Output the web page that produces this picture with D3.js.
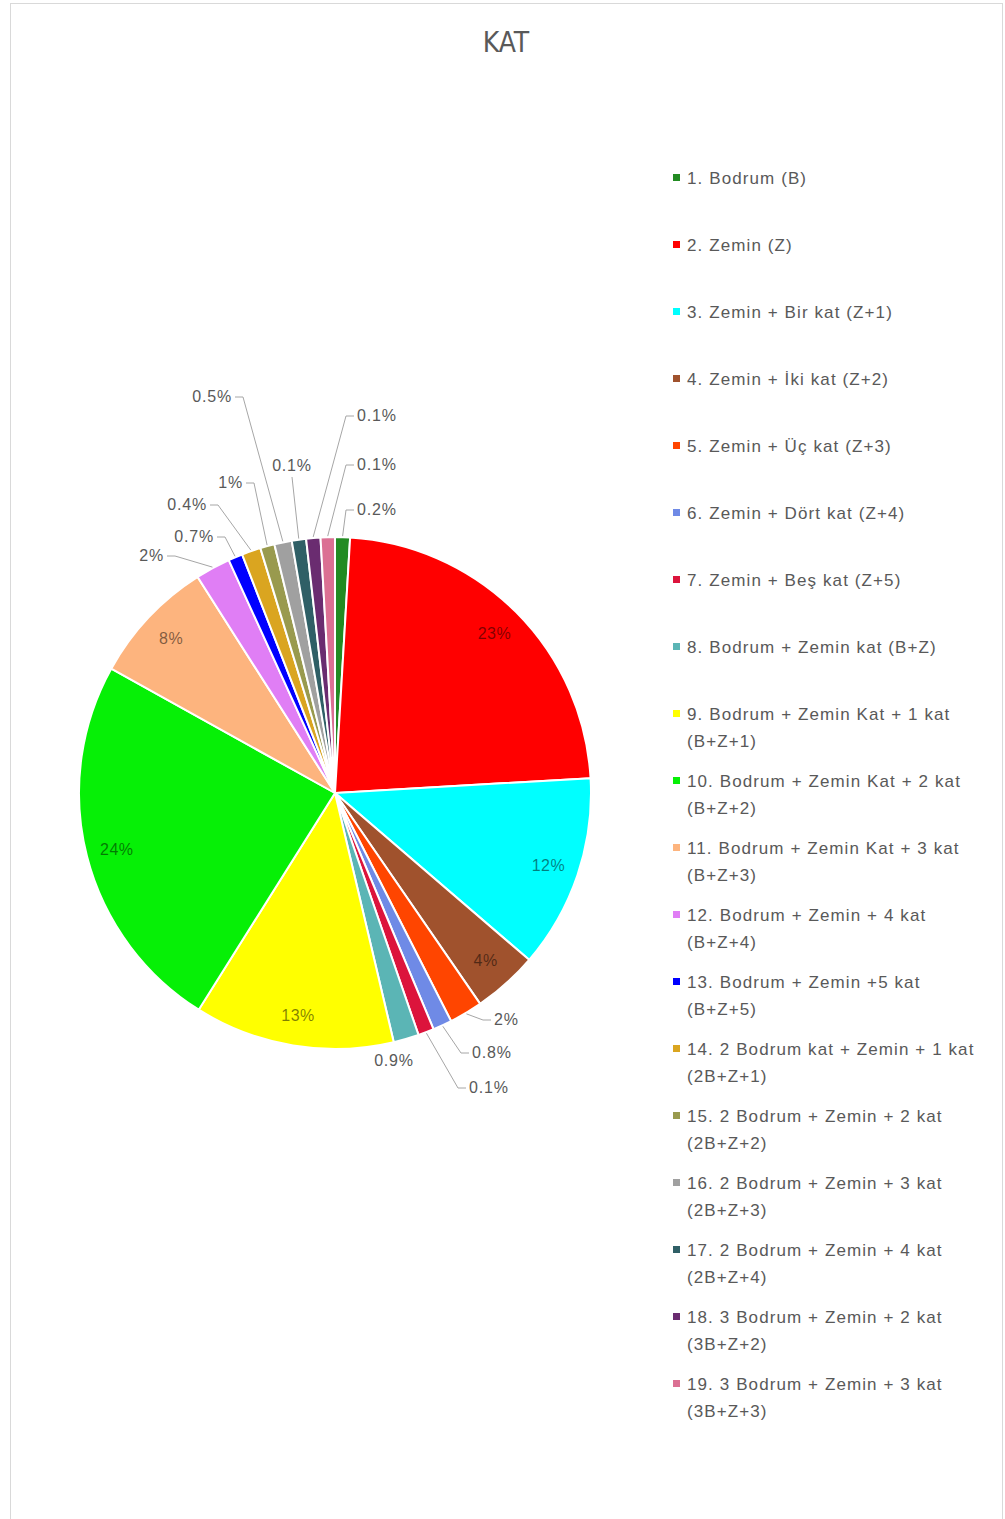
<!DOCTYPE html>
<html>
<head>
<meta charset="utf-8">
<script src="https://cdn.jsdelivr.net/npm/d3@7"></script>
<style>
  body { margin: 0; background: #fff; }
  svg text { font-family: "Liberation Sans", Arial, sans-serif; }
</style>
</head>
<body>
<div id="chart"></div>
<script>
// chart data (shares, labels as printed)
var categories = [
  "1. Bodrum (B)",
  "2. Zemin (Z)",
  "3. Zemin + Bir kat (Z+1)",
  "4. Zemin + İki kat (Z+2)",
  "5. Zemin + Üç kat (Z+3)",
  "6. Zemin + Dört kat (Z+4)",
  "7. Zemin + Beş kat (Z+5)",
  "8. Bodrum + Zemin kat (B+Z)",
  "9. Bodrum + Zemin Kat + 1 kat (B+Z+1)",
  "10. Bodrum + Zemin Kat + 2 kat (B+Z+2)",
  "11. Bodrum + Zemin Kat + 3 kat (B+Z+3)",
  "12. Bodrum + Zemin + 4 kat (B+Z+4)",
  "13. Bodrum + Zemin +5 kat (B+Z+5)",
  "14. 2 Bodrum kat + Zemin + 1 kat (2B+Z+1)",
  "15. 2 Bodrum + Zemin + 2 kat (2B+Z+2)",
  "16. 2 Bodrum + Zemin + 3 kat (2B+Z+3)",
  "17. 2 Bodrum + Zemin + 4 kat (2B+Z+4)",
  "18. 3 Bodrum + Zemin + 2 kat (3B+Z+2)",
  "19. 3 Bodrum + Zemin + 3 kat (3B+Z+3)"
];

var shares = [0.94, 23.1, 12.2, 4.1, 2.1, 1.2, 1.0, 1.6, 12.6, 24.1, 7.9, 2.2, 0.9, 1.2, 0.9, 1.1, 0.9, 0.9, 0.9];

var pctLabels = ["0.2%", "23%", "12%", "4%", "2%", "0.8%", "0.1%", "0.9%", "13%", "24%", "8%", "2%", "0.7%", "0.4%", "1%", "0.5%", "0.1%", "0.1%", "0.1%"];

var colors = ["#228B22", "#FF0000", "#00FFFF", "#A0522D", "#FF4500", "#6F8AE6", "#DC143C", "#5BB5B5",
  "#FFFF00", "#06F006", "#FDB47E", "#E07EF5", "#0000FF", "#DAA520", "#999A4E", "#A0A0A0",
  "#2F5F66", "#6A2C70", "#DB7093"];

var width = 1005,
    height = 1519,
    cx = 335,
    cy = 793,
    radius = 256;

// where the small slices' labels sit, relative to the pie centre
var outerLayout = {
  0: { dx: 22, dy: -278, anchor: "start" },
  4: { dx: 159, dy: 232, anchor: "start" },
  5: { dx: 137, dy: 265, anchor: "start" },
  6: { dx: 134, dy: 300, anchor: "start" },
  7: { dx: 59, dy: 273, anchor: "middle", noLine: true },
  11: { dx: -171, dy: -232, anchor: "end" },
  12: { dx: -121, dy: -251, anchor: "end" },
  13: { dx: -128, dy: -283, anchor: "end" },
  14: { dx: -92, dy: -305, anchor: "end" },
  15: { dx: -103, dy: -391, anchor: "end" },
  16: { dx: -43, dy: -322, anchor: "middle" },
  17: { dx: 22, dy: -372, anchor: "start" },
  18: { dx: 22, dy: -323, anchor: "start" }
};

var svg = d3.select("#chart").append("svg")
  .attr("width", width)
  .attr("height", height);

svg.append("rect")
  .attr("x", 10.5)
  .attr("y", 3.5)
  .attr("width", 992)
  .attr("height", 1530)
  .attr("fill", "#fff")
  .attr("stroke", "#d9d9d9");

svg.append("text")
  .attr("x", 506)
  .attr("y", 52)
  .attr("text-anchor", "middle")
  .style("font-size", "28px")
  .style("font-family", "'Liberation Sans Narrow', 'DejaVu Sans Condensed', sans-serif")
  .attr("fill", "#595959")
  .text("KAT");

var pie = d3.pie().sort(null).value(function(d) { return d; });
var arcs = pie(shares);

var arc = d3.arc().innerRadius(0).outerRadius(radius);
var labelArc = d3.arc().innerRadius(radius * 0.88).outerRadius(radius * 0.88);
var edgeArc = d3.arc().innerRadius(radius + 1).outerRadius(radius + 1);

var g = svg.append("g").attr("transform", "translate(" + cx + "," + cy + ")");

g.selectAll("path.slice")
  .data(arcs)
  .enter()
  .append("path")
  .attr("class", "slice")
  .attr("d", arc)
  .attr("fill", function(d, i) { return colors[i]; })
  .attr("stroke", "#fff")
  .attr("stroke-width", 2);

// labels inside the big slices
g.selectAll("text.inner")
  .data(arcs.filter(function(d, i) { return !outerLayout[i]; }))
  .enter()
  .append("text")
  .attr("class", "inner")
  .attr("transform", function(d) { return "translate(" + labelArc.centroid(d) + ")"; })
  .attr("dy", "0.35em")
  .attr("text-anchor", "middle")
  .style("font-size", "16px")
  .style("letter-spacing", "0.5px")
  .attr("fill", "#000")
  .attr("fill-opacity", 0.5)
  .text(function(d) { return pctLabels[d.index]; });

// leader lines + labels for small slices
Object.keys(outerLayout).forEach(function(k) {
  var i = +k, p = outerLayout[k], d = arcs[i];
  var start = edgeArc.centroid(d);
  var ty = p.dy - 5;
  if (!p.noLine) {
    var pts;
    if (p.anchor === "start") {
      pts = [start, [p.dx - 11, ty], [p.dx - 3, ty]];
    } else if (p.anchor === "end") {
      pts = [start, [p.dx + 11, ty], [p.dx + 3, ty]];
    } else {
      pts = [start, [p.dx, p.dy + 6]];
    }
    g.append("path")
      .attr("d", d3.line()(pts))
      .attr("fill", "none")
      .attr("stroke", "#a6a6a6")
      .attr("stroke-width", 1);
  }
  g.append("text")
    .attr("x", p.dx)
    .attr("y", p.dy)
    .attr("text-anchor", p.anchor)
    .style("font-size", "16px")
    .style("letter-spacing", "0.8px")
    .attr("fill", "#595959")
    .text(pctLabels[i]);
});

// legend
var legendX = 676,
    legendY = 178,
    legendStep = 67,
    lineGap = 27,
    maxTextWidth = 300;

var legend = svg.append("g");

categories.forEach(function(name, i) {
  var y = legendY + i * legendStep;
  legend.append("rect")
    .attr("x", legendX - 3)
    .attr("y", y - 4)
    .attr("width", 7)
    .attr("height", 7)
    .attr("fill", colors[i]);

  var t = legend.append("text")
    .attr("x", legendX + 11)
    .attr("y", y + 6)
    .style("font-size", "17px")
    .style("letter-spacing", "1.1px")
    .attr("fill", "#595959")
    .text(name);

  // wrap the code part onto a second line when too long
  if (t.node().getComputedTextLength() > maxTextWidth) {
    var cut = name.lastIndexOf(" (");
    t.text(name.slice(0, cut));
    legend.append("text")
      .attr("x", legendX + 11)
      .attr("y", y + 6 + lineGap)
      .style("font-size", "17px")
      .style("letter-spacing", "1.1px")
      .attr("fill", "#595959")
      .text(name.slice(cut + 1));
  }
});
</script>
</body>
</html>
